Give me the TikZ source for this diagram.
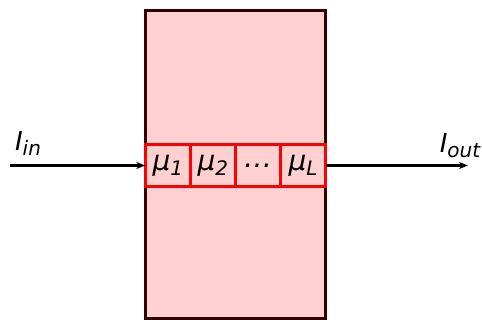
\documentclass[tikz,border=0pt]{standalone}
\usepackage{fontspec}
\setmainfont{DejaVu Sans}
\usetikzlibrary{positioning,arrows.meta}
\definecolor{boxfill}{RGB}{255,208,208}
\definecolor{boxline}{RGB}{51,0,0}
\newcommand\lowsub[1]{\raisebox{-0.35ex}{\fontsize{20}{20}\selectfont #1}}
\begin{document}
\begin{tikzpicture}[x=1pt, y=-1pt, >={Stealth[length=9pt,width=7pt]},
    cell/.style={draw=red, line width=3.2pt, fill=boxfill, minimum width=45.1pt,
      minimum height=42.5pt, inner sep=0pt, outer sep=0pt,
      font=\fontsize{28}{28}\selectfont\itshape},
    iolabel/.style={font=\fontsize{26}{26}\selectfont\itshape, inner sep=0pt}]
\useasboundingbox (0,0) rectangle (482,320);
\node (box) [draw=boxline, line width=3pt, fill=boxfill, minimum width=180.5pt,
  minimum height=308pt, inner sep=0pt] at (235.5,164.25) {};
\node (mu1) [cell] at (167.8,165.5) {μ\lowsub{1}};
\node (mu2) [cell, right=0pt of mu1] {μ\lowsub{2}};
\node (dots) [cell, right=0pt of mu2] {…};
\node (muL) [cell, right=0pt of dots] {μ\lowsub{L}};
\coordinate (inStart) at (10,165.5);
\coordinate (outEnd) at (468,165.5);
\draw[->, line width=2.4pt] (inStart) -- (mu1.west);
\draw[->, line width=2.4pt] (muL.east) -- (outEnd);
\node (Iin) [iolabel] at (28,144) {I\lowsub{in}};
\node (Iout) [iolabel] at (460,146) {I\lowsub{out}};
\end{tikzpicture}
\end{document}
